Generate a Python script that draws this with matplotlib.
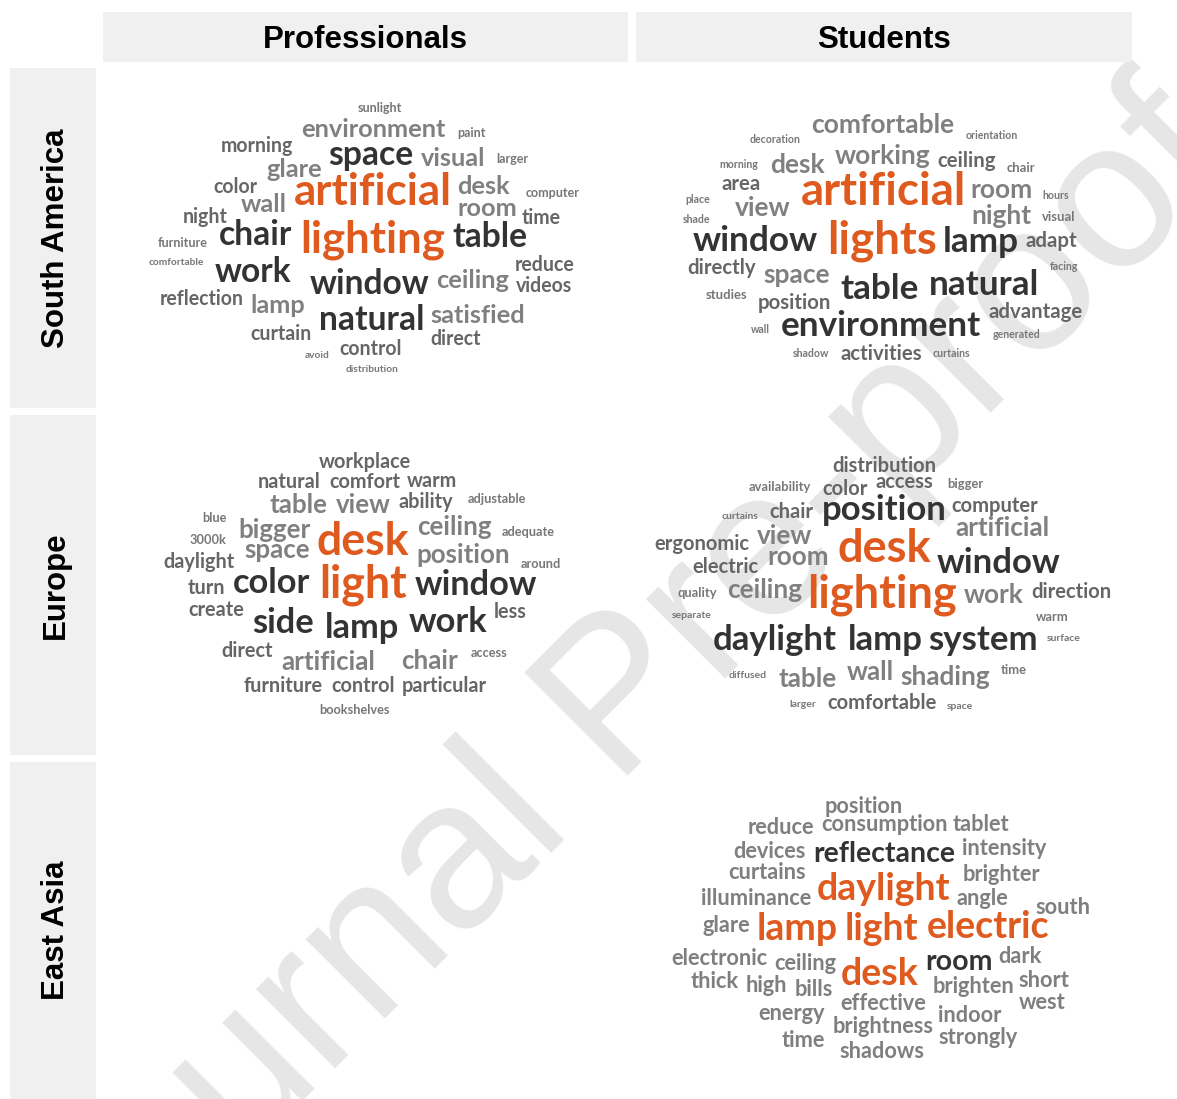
import matplotlib
matplotlib.use("Agg")
import matplotlib.pyplot as plt
from matplotlib.patches import Rectangle

# column / row labels
col_labels = ["Professionals", "Students"]
row_labels = ["South America", "Europe", "East Asia"]

# word clouds: words and mention levels (1 = rare ... 6 = most frequent)
sa_pro_words = ["sunlight", "environment", "paint", "morning", "space", "visual", "larger", "glare",
                "color", "artificial", "desk", "computer", "wall", "room", "night", "time", "chair",
                "lighting", "table", "furniture", "comfortable", "work", "reduce", "window", "ceiling",
                "videos", "reflection", "lamp", "natural", "satisfied", "curtain", "direct", "control",
                "avoid", "distribution"]
sa_pro_freq = [2, 4, 2, 3, 5, 4, 2, 4, 3, 6, 4, 2, 4, 4, 3, 3, 5, 6, 5, 2, 1, 5, 3, 5, 4, 3, 3, 4, 5,
               4, 3, 3, 3, 1, 1]

sa_stu_words = ["comfortable", "decoration", "orientation", "working", "ceiling", "morning", "desk",
                "chair", "area", "artificial", "room", "hours", "place", "shade", "view", "night",
                "visual", "window", "lights", "lamp", "adapt", "directly", "facing", "space", "table",
                "natural", "studies", "position", "advantage", "environment", "wall", "generated",
                "shadow", "activities", "curtains"]
sa_stu_freq = [4, 1, 1, 4, 3, 1, 4, 2, 3, 6, 4, 1, 1, 1, 4, 4, 2, 5, 6, 5, 3, 3, 1, 4, 5, 5, 2, 3, 3,
               5, 1, 1, 1, 3, 1]

eu_pro_words = ["workplace", "natural", "comfort", "warm", "table", "view", "ability", "adjustable",
                "blue", "bigger", "desk", "ceiling", "adequate", "3000k", "space", "position",
                "daylight", "around", "turn", "color", "light", "window", "create", "less", "side",
                "lamp", "work", "direct", "artificial", "chair", "access", "furniture", "control",
                "particular", "bookshelves"]
eu_pro_freq = [3, 3, 3, 3, 4, 4, 3, 2, 2, 4, 6, 4, 2, 2, 4, 4, 3, 2, 3, 5, 6, 5, 3, 3, 5, 5, 5, 3, 4,
               4, 2, 3, 3, 3, 2]

eu_stu_words = ["distribution", "availability", "color", "access", "bigger", "curtains", "chair",
                "position", "computer", "artificial", "view", "ergonomic", "desk", "room", "window",
                "electric", "quality", "ceiling", "lighting", "work", "direction", "separate", "warm",
                "daylight", "lamp", "system", "surface", "diffused", "table", "wall", "shading", "time",
                "larger", "comfortable", "space"]
eu_stu_freq = [3, 2, 3, 3, 2, 1, 3, 5, 3, 4, 4, 3, 6, 4, 5, 3, 2, 4, 6, 4, 3, 1, 2, 5, 5, 5, 1, 1, 4,
               4, 4, 2, 1, 3, 1]

ea_stu_words = ["position", "reduce", "consumption", "tablet", "devices", "reflectance", "intensity",
                "curtains", "brighter", "daylight", "illuminance", "angle", "south", "glare", "lamp",
                "light", "electric", "electronic", "ceiling", "desk", "room", "dark", "thick", "high",
                "bills", "brighten", "short", "effective", "west", "energy", "indoor", "brightness",
                "strongly", "time", "shadows"]
ea_stu_freq = [1, 1, 1, 1, 1, 2, 1, 1, 1, 3, 1, 1, 1, 1, 3, 3, 3, 1, 1, 3, 2, 1, 1, 1, 1, 1, 1, 1, 1,
               1, 1, 1, 1, 1, 1]

# layout of the clouds (word centre x, baseline y, in figure pixels)
sa_pro_x = [380, 373, 471, 257, 371, 453, 512, 294, 235, 373, 483, 553, 264, 487, 205, 541, 256, 373,
            490, 183, 176, 253, 545, 370, 473, 544, 202, 278, 372, 478, 281, 456, 371, 317, 372]
sa_pro_y = [112, 137, 137, 152, 165, 166, 163, 177, 193, 205, 194, 197, 212, 216, 223, 224, 245, 252,
            247, 247, 265, 282, 271, 294, 288, 292, 305, 313, 330, 323, 340, 345, 355, 358, 372]

sa_stu_x = [883, 775, 992, 883, 967, 739, 797, 1021, 741, 883, 1002, 1056, 698, 697, 763, 1001, 1059,
            755, 882, 981, 1051, 722, 1064, 797, 880, 984, 727, 794, 1036, 881, 760, 1017, 811, 881,
            951]
sa_stu_y = [133, 143, 139, 164, 167, 168, 173, 172, 190, 205, 198, 199, 203, 223, 216, 224, 221, 251,
            253, 252, 247, 274, 270, 283, 299, 295, 299, 309, 318, 336, 333, 338, 357, 360, 357]

eu_pro_x = [365, 289, 365, 432, 298, 363, 426, 497, 214, 274, 363, 454, 528, 208, 277, 463, 199, 541,
            206, 272, 363, 476, 216, 510, 283, 362, 448, 247, 328, 430, 489, 283, 363, 444, 355]
eu_pro_y = [468, 488, 488, 487, 513, 513, 508, 503, 522, 538, 555, 535, 536, 544, 558, 563, 568, 568,
            594, 593, 597, 595, 616, 618, 633, 638, 632, 657, 670, 669, 657, 692, 692, 692, 714]

eu_stu_x = [884, 780, 845, 904, 965, 740, 791, 884, 995, 1002, 785, 702, 884, 798, 999, 725, 697, 765,
            882, 994, 1071, 692, 1052, 775, 885, 983, 1064, 748, 808, 870, 945, 1014, 803, 882, 960]
eu_stu_y = [472, 491, 495, 488, 488, 519, 518, 520, 512, 536, 544, 550, 562, 565, 573, 573, 597, 598,
            607, 603, 598, 618, 621, 650, 650, 650, 641, 678, 687, 680, 685, 674, 707, 709, 709]

ea_stu_x = [864, 781, 884, 981, 769, 884, 1004, 767, 1001, 884, 756, 982, 1063, 726, 797, 881, 988,
            719, 805, 880, 959, 1020, 715, 766, 814, 973, 1044, 883, 1042, 792, 970, 883, 978, 803, 882]
ea_stu_y = [813, 834, 831, 831, 858, 862, 855, 879, 881, 900, 905, 905, 914, 932, 940, 940, 938, 965,
            970, 985, 970, 963, 988, 992, 996, 993, 987, 1010, 1009, 1020, 1022, 1033, 1044, 1047, 1058]

orange = "#df5a1e"
dark = "#333333"
base_sizes = {1: 7.5, 2: 9.3, 3: 14.5, 4: 18.8, 5: 25.0, 6: 32.5}
base_colors = {1: "#777777", 2: "#777777", 3: "#666666", 4: "#808080", 5: dark, 6: orange}
ea_sizes = {1: 15.7, 2: 20.5, 3: 27.0}
ea_colors = {1: "#7f7f7f", 2: dark, 3: orange}

fig = plt.figure(figsize=(11.77, 10.99), dpi=100)
ax = fig.add_axes([0, 0, 1, 1])
ax.set_xlim(0, 1177)
ax.set_ylim(1099, 0)
ax.axis("off")

strip = "#f0f0f0"
ax.add_patch(Rectangle((103, 12), 525, 50, color=strip, lw=0, zorder=1))
ax.add_patch(Rectangle((636, 12), 496, 50, color=strip, lw=0, zorder=1))
ax.add_patch(Rectangle((10, 68), 86, 340, color=strip, lw=0, zorder=1))
ax.add_patch(Rectangle((10, 415), 86, 340, color=strip, lw=0, zorder=1))
ax.add_patch(Rectangle((10, 762), 86, 340, color=strip, lw=0, zorder=1))

hfont = dict(family="Liberation Sans", fontweight="bold", fontsize=22.5, color="black", zorder=3)
ax.text(365.5, 40, col_labels[0], ha="center", va="center", **hfont)
ax.text(884, 40, col_labels[1], ha="center", va="center", **hfont)
for lab, yc in zip(row_labels, [238, 585, 930]):
    ax.text(56, yc, lab, ha="center", va="center", rotation=90, **hfont)

# watermark
ax.text(699, 705, "Journal Pre-proofs", family="Liberation Sans", fontsize=152, color="#e6e6e6",
        rotation=45, rotation_mode="anchor", ha="center", va="baseline", zorder=0.5)

panels = [
    (sa_pro_words, sa_pro_freq, sa_pro_x, sa_pro_y, base_sizes, base_colors, 0.97),
    (sa_stu_words, sa_stu_freq, sa_stu_x, sa_stu_y, base_sizes, base_colors, 1.01),
    (eu_pro_words, eu_pro_freq, eu_pro_x, eu_pro_y, base_sizes, base_colors, 0.99),
    (eu_stu_words, eu_stu_freq, eu_stu_x, eu_stu_y, base_sizes, base_colors, 1.0),
    (ea_stu_words, ea_stu_freq, ea_stu_x, ea_stu_y, ea_sizes, ea_colors, 1.0),
]
for words, freq, xs, ys, sizes, colors, k in panels:
    for w, f, x, y in zip(words, freq, xs, ys):
        ax.text(x, y, w, ha="center", va="baseline", family="Lato", fontweight="bold",
                fontsize=sizes[f] * k, color=colors[f], zorder=2)

plt.savefig("out.png", dpi=100)
